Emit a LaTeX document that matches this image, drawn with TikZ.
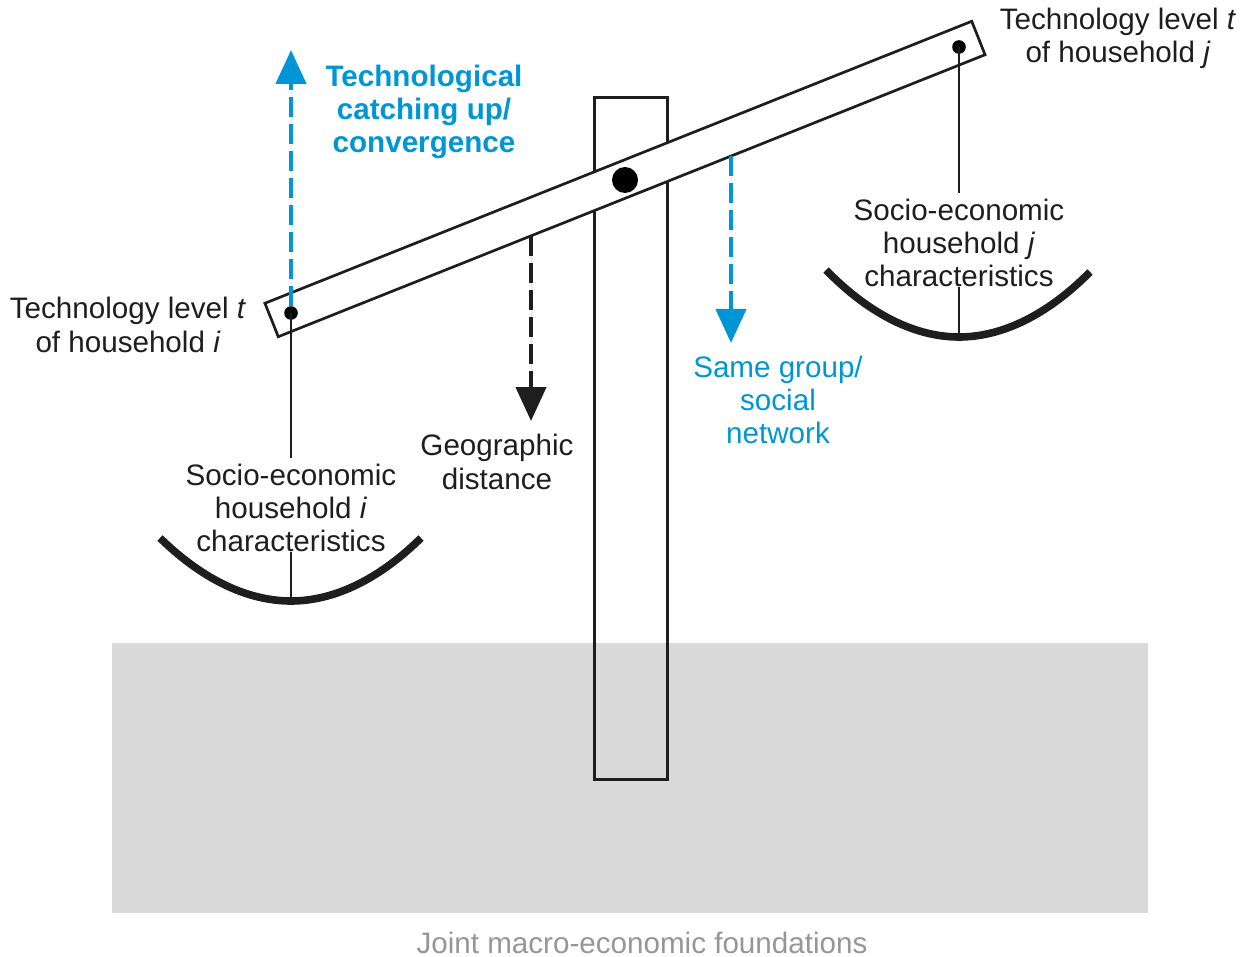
\documentclass[tikz,border=0pt]{standalone}
\usepackage{fontspec}
\setmainfont{Liberation Sans}
\usetikzlibrary{arrows.meta}
\definecolor{cblue}{RGB}{0,150,214}
\definecolor{ground}{RGB}{217,217,217}
\definecolor{labelgrey}{RGB}{150,150,150}
\definecolor{ink}{RGB}{30,30,30}
\begin{document}
\begin{tikzpicture}[x=0.5pt,y=-0.5pt,
  lbl/.style={align=center, inner sep=0pt, font=\fontsize{14.8}{16.6}\selectfont, text=ink},
  outline/.style={draw=ink, line width=1.35pt},
  dotmark/.style={circle, fill=black, inner sep=0pt, minimum size=6.8pt},
  hanger/.style={draw=ink, line width=1.1pt},
  bowl/.style={draw=ink, line width=3.8pt},
  flow/.style={line width=2.2pt, dash pattern=on 10pt off 3.5pt, -{Triangle[length=17pt,width=15pt]}},
]
\useasboundingbox (0,0) rectangle (1248,957);
% ground
\node[fill=ground, minimum width=518pt, minimum height=135pt, inner sep=0pt, anchor=north west] (groundbox) at (112,643) {};
\node[lbl, text=labelgrey] (found) at (642,943) {Joint macro-economic foundations};
% post
\node[outline, minimum width=36.5pt, minimum height=341pt, inner sep=0pt, anchor=north west] (post) at (593,96) {};
% beam
\node[outline, fill=white, rotate=21.75, minimum width=380.5pt, minimum height=18pt, inner sep=0pt] (beam) at (625,179) {};
\node[dotmark, minimum size=13pt] (pivot) at (625,180) {};
\node[dotmark] (doti) at (291,313) {};
\node[dotmark] (dotj) at (959,47) {};
% labels
\node[lbl] (techi) at (128,325) {Technology level \textit{t}\\of household \textit{i}};
\node[lbl] (techj) at (1118,38) {Technology level \textit{t}\\of household \textit{j}};
\node[lbl] (seci) at (291,508) {Socio-economic\\household \textit{i}\\characteristics};
\node[lbl] (secj) at (959,243) {Socio-economic\\household \textit{j}\\characteristics};
\node[lbl] (geo) at (497,462) {Geographic\\distance};
\node[lbl, text=cblue] (same) at (778,400) {Same group/\\social\\network};
\node[lbl, text=cblue, font=\fontsize{14.8}{16.6}\selectfont\bfseries] (catch) at (424,112) {Technological\\catching up/\\convergence};
% bowls
\coordinate (bi) at (291,601);
\coordinate (bj) at (959,337);
\draw[bowl] (160,538) parabola bend (bi) (421,538);
\draw[bowl] (826,270) parabola bend (bj) (1090,272);
% hangers
\draw[hanger] (doti.center) -- ([yshift=3pt]seci.north);
\draw[hanger] (seci.south) -- (bi);
\draw[hanger] (dotj.center) -- ([yshift=3pt]secj.north);
\draw[hanger] (secj.south) -- (bj);
% arrows
\coordinate (uptip) at (291,50);
\coordinate (geotop) at (531,236);
\coordinate (geotip) at (531,421);
\coordinate (sametop) at (731,156);
\coordinate (sametip) at (731,343);
\draw[flow, draw=cblue, fill=cblue] (doti.north) -- (uptip);
\draw[flow, draw=ink, fill=ink] (geotop) -- (geotip);
\draw[flow, draw=cblue, fill=cblue] (sametop) -- (sametip);
\end{tikzpicture}
\end{document}
